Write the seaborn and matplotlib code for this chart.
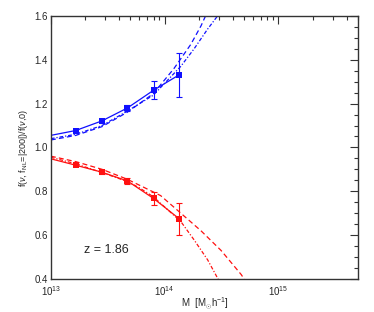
import numpy as np
import pandas as pd
import matplotlib
matplotlib.use("Agg")
import matplotlib.pyplot as plt
import seaborn as sns
from matplotlib.ticker import LogLocator, MultipleLocator, NullFormatter

# ---- data ----
mass_pts = [1.65e13, 2.81e13, 4.71e13, 8.0e13, 1.34e14]
blue_pts = [1.077, 1.121, 1.180, 1.261, 1.331]
blue_err = [0.006, 0.008, 0.015, 0.040, 0.100]
red_pts = [0.919, 0.887, 0.847, 0.767, 0.675]
red_err = [0.006, 0.008, 0.012, 0.030, 0.073]

solid_mass = [1.0e13] + mass_pts
blue_solid = [1.055] + blue_pts
red_solid = [0.948] + red_pts

blue_dash_mass = [1.0e13, 1.66e13, 2.82e13, 4.68e13, 7.94e13, 1.208e14, 1.698e14, 2.09e14, 2.29e14, 2.5e14]
blue_dash = [1.034, 1.055, 1.095, 1.160, 1.245, 1.360, 1.470, 1.555, 1.600, 1.650]
blue_dd_mass = [1.0e13, 1.66e13, 2.82e13, 4.68e13, 7.94e13, 1.387e14, 1.816e14, 2.388e14, 3.02e14, 3.3e14]
blue_dd = [1.040, 1.060, 1.100, 1.165, 1.238, 1.370, 1.450, 1.540, 1.610, 1.645]

red_dash_mass = [1.0e13, 1.66e13, 2.82e13, 4.68e13, 7.94e13, 9.23e13, 1.387e14, 2.084e14, 3.133e14, 4.71e14, 5.62e14]
red_dash = [0.960, 0.935, 0.900, 0.855, 0.797, 0.780, 0.700, 0.620, 0.530, 0.420, 0.360]
red_dd_mass = [1.0e13, 1.66e13, 2.82e13, 4.68e13, 6.03e13, 7.94e13, 1.387e14, 1.816e14, 2.388e14, 2.924e14, 3.16e14]
red_dd = [0.955, 0.925, 0.885, 0.845, 0.815, 0.775, 0.662, 0.578, 0.487, 0.403, 0.370]

BLUE = "#1010ff"
RED = "#ff1010"

sns.set_theme(style="white")
plt.rcParams["font.family"] = ["Liberation Sans", "DejaVu Sans"]
plt.rcParams["mathtext.fontset"] = "custom"
plt.rcParams["mathtext.rm"] = "Liberation Sans"
plt.rcParams["mathtext.it"] = "Liberation Sans:italic"

fig = plt.figure(figsize=(3.74, 3.12), dpi=100)
ax = fig.add_axes([0.136, 0.106, 0.821, 0.843])

def line(x, y, color, dashes=None):
    df = pd.DataFrame({"M": x, "f": y})
    sns.lineplot(data=df, x="M", y="f", ax=ax, color=color, lw=0.9,
                 estimator=None, sort=False)
    ln = ax.lines[-1]
    if dashes is not None:
        ln.set_dashes(dashes)
    return ln

line(solid_mass, blue_solid, BLUE)
line(blue_dash_mass, blue_dash, BLUE, (4, 2.5))
line(blue_dd_mass, blue_dd, BLUE, (3, 1.5, 1, 1.5))
line(solid_mass, red_solid, RED)
line(red_dash_mass, red_dash, RED, (4, 2.5))
line(red_dd_mass, red_dd, RED, (3, 1.5, 1, 1.5))

for ys, es, c in [(blue_pts, blue_err, BLUE), (red_pts, red_err, RED)]:
    ax.errorbar(mass_pts, ys, yerr=es, fmt="none", ecolor=c, elinewidth=0.8,
                capsize=2, capthick=0.8)
    sns.scatterplot(x=mass_pts, y=ys, ax=ax, marker="s", s=18, color=c,
                    edgecolor=c, linewidth=0, zorder=5)

ax.set_xscale("log")
ax.set_xlim(1e13, 5e15)
ax.set_ylim(0.4, 1.6)
ax.yaxis.set_major_locator(MultipleLocator(0.2))
ax.yaxis.set_minor_locator(MultipleLocator(0.05))
ax.xaxis.set_major_locator(LogLocator(base=10, numticks=10))
ax.xaxis.set_minor_locator(LogLocator(base=10, subs=np.arange(2, 10), numticks=20))
ax.xaxis.set_minor_formatter(NullFormatter())
ax.set_yticks([0.4, 0.6, 0.8, 1.0, 1.2, 1.4, 1.6])
ax.set_yticklabels(["0.4", "0.6", "0.8", "1.0", "1.2", "1.4", "1.6"])

ax.tick_params(which="both", direction="in", top=True, right=True,
               labelsize=7, color="#333333", width=0.8)
ax.tick_params(axis="y", pad=2)
ax.tick_params(axis="x", pad=3.5)
ax.tick_params(which="major", length=6)
ax.tick_params(which="minor", length=3)
for s in ax.spines.values():
    s.set_color("#333333")
    s.set_linewidth(1.0)

ax.set_xlabel(r"M  [M$_{\odot}$h$^{-1}$]", fontsize=7)
ax.xaxis.set_label_coords(0.5, -0.095)
ax.xaxis.label.set_va("center")
ax.set_ylabel(r"f($\nu$, f$_{\rm NL}$=|200|)/f($\nu$,0)", fontsize=6.5, labelpad=3)
ax.text(3.1e13, 0.53, "z = 1.86", fontsize=9, ha="center", va="center")

fig.savefig("out.png", dpi=100)
